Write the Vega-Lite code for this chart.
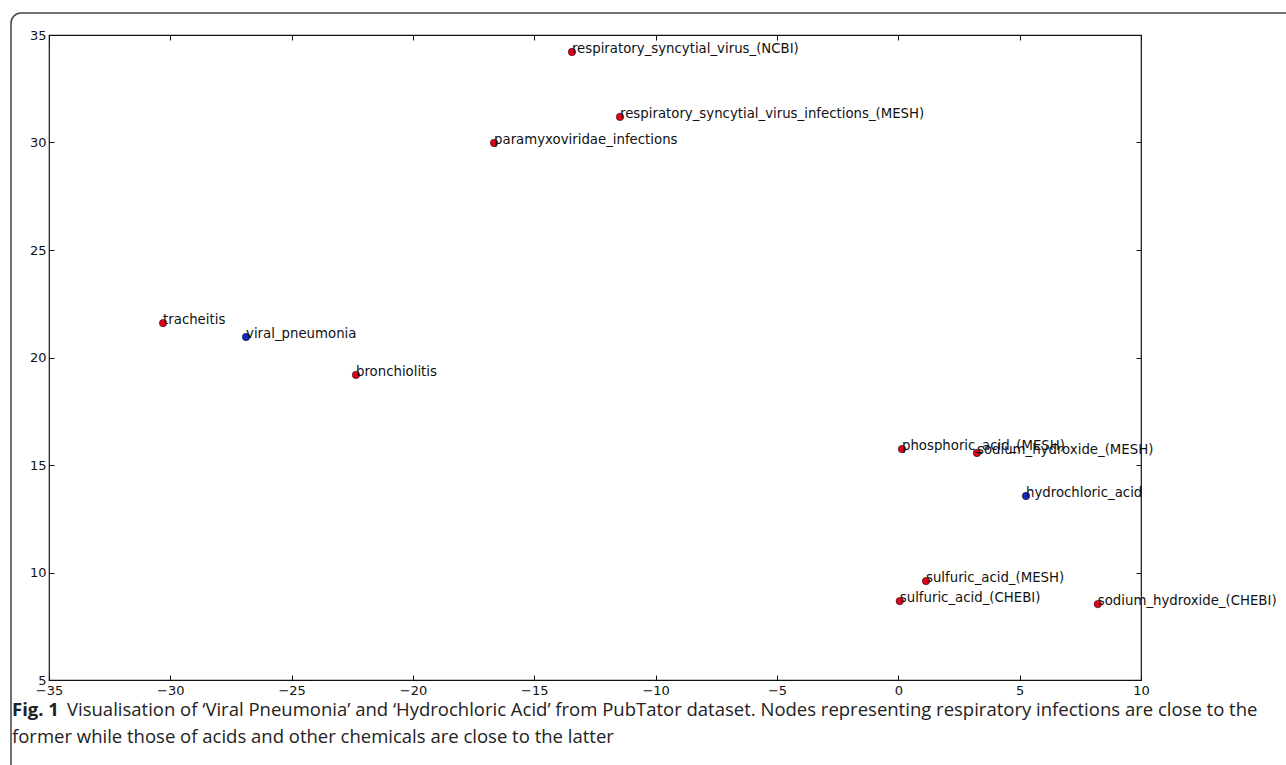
{
  "$schema": "https://vega.github.io/schema/vega-lite/v6.json",
  "width": 1092,
  "height": 645,
  "autosize": {"type": "none"},
  "padding": {"left": 49, "top": 35, "right": 145, "bottom": 85},
  "background": "white",
  "config": {
    "view": {"stroke": "#111", "strokeWidth": 1.2},
    "axis": {
      "grid": false,
      "domain": false,
      "tickSize": -5,
      "tickColor": "#111",
      "labelFont": "DejaVu Sans",
      "labelFontSize": 13,
      "labelColor": "#111",
      "title": null
    }
  },
  "datasets": {
    "nodes": [
      {"name": "respiratory_syncytial_virus_(NCBI)", "x": -13.45, "y": 34.21, "group": "related"},
      {"name": "respiratory_syncytial_virus_infections_(MESH)", "x": -11.47, "y": 31.19, "group": "related"},
      {"name": "paramyxoviridae_infections", "x": -16.66, "y": 29.98, "group": "related"},
      {"name": "tracheitis", "x": -30.3, "y": 21.6, "group": "related"},
      {"name": "viral_pneumonia", "x": -26.88, "y": 20.95, "group": "query"},
      {"name": "bronchiolitis", "x": -22.35, "y": 19.19, "group": "related"},
      {"name": "phosphoric_acid_(MESH)", "x": 0.15, "y": 15.74, "group": "related"},
      {"name": "sodium_hydroxide_(MESH)", "x": 3.24, "y": 15.56, "group": "related"},
      {"name": "hydrochloric_acid", "x": 5.26, "y": 13.56, "group": "query"},
      {"name": "sulfuric_acid_(MESH)", "x": 1.14, "y": 9.6, "group": "related"},
      {"name": "sulfuric_acid_(CHEBI)", "x": 0.06, "y": 8.67, "group": "related"},
      {"name": "sodium_hydroxide_(CHEBI)", "x": 8.22, "y": 8.53, "group": "related"}
    ],
    "caption": [
      {"line": 1, "bold": "Fig. 1", "text": "Visualisation of \u2018Viral Pneumonia\u2019 and \u2018Hydrochloric Acid\u2019 from PubTator dataset. Nodes representing respiratory infections are close to the"},
      {"line": 2, "bold": "", "text": "former while those of acids and other chemicals are close to the latter"}
    ]
  },
  "layer": [
    {
      "data": {"values": [{}]},
      "mark": {"type": "rect", "x": -38, "y": -22, "x2": 1300, "y2": 800, "fill": null, "stroke": "#444", "strokeWidth": 1.5, "cornerRadius": 10, "clip": false},
      "encoding": {}
    },
    {
      "data": {"name": "nodes"},
      "mark": {"type": "point", "filled": true, "size": 55, "stroke": "#111", "strokeWidth": 0.6, "opacity": 1},
      "encoding": {
        "x": {"field": "x", "type": "quantitative", "scale": {"domain": [-35, 10], "nice": false, "zero": false}, "axis": {"orient": "bottom", "values": [-35, -30, -25, -20, -15, -10, -5, 0, 5, 10], "labelPadding": 9, "labelFlush": false}},
        "y": {"field": "y", "type": "quantitative", "scale": {"domain": [5, 35], "nice": false, "zero": false}, "axis": {"orient": "left", "values": [5, 10, 15, 20, 25, 30, 35], "labelPadding": 8}},
        "fill": {"field": "group", "type": "nominal", "scale": {"domain": ["related", "query"], "range": ["#e8001a", "#1228c8"]}, "legend": null}
      }
    },
    {
      "data": {"name": "nodes"},
      "mark": {"type": "text", "align": "left", "baseline": "alphabetic", "font": "DejaVu Sans", "fontSize": 13.3, "color": "#111", "dy": 1},
      "encoding": {
        "x": {"field": "x", "type": "quantitative", "scale": {"domain": [-35, 10], "nice": false, "zero": false}, "axis": {"orient": "top", "labels": false, "values": [-35, -30, -25, -20, -15, -10, -5, 0, 5, 10]}},
        "y": {"field": "y", "type": "quantitative", "scale": {"domain": [5, 35], "nice": false, "zero": false}, "axis": {"orient": "right", "labels": false, "values": [5, 10, 15, 20, 25, 30, 35]}},
        "text": {"field": "name"}
      }
    },
    {
      "data": {"name": "caption"},
      "transform": [{"filter": "datum.line == 1"}],
      "mark": {"type": "text", "x": -37, "y": 681, "align": "left", "baseline": "alphabetic", "font": "Open Sans", "fontSize": 18.5, "fontWeight": "bold", "color": "#222", "clip": false},
      "encoding": {"text": {"field": "bold"}}
    },
    {
      "data": {"name": "caption"},
      "transform": [{"filter": "datum.line == 1"}],
      "mark": {"type": "text", "x": 18, "y": 681, "align": "left", "baseline": "alphabetic", "font": "Open Sans", "fontSize": 18.5, "color": "#222", "clip": false},
      "encoding": {"text": {"field": "text"}}
    },
    {
      "data": {"name": "caption"},
      "transform": [{"filter": "datum.line == 2"}],
      "mark": {"type": "text", "x": -37, "y": 708, "align": "left", "baseline": "alphabetic", "font": "Open Sans", "fontSize": 18.5, "color": "#222", "clip": false},
      "encoding": {"text": {"field": "text"}}
    }
  ],
  "resolve": {"axis": {"x": "independent", "y": "independent"}}
}
